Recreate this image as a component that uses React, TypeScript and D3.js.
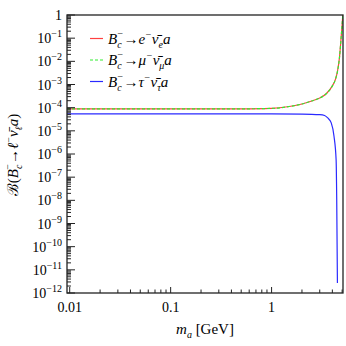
import * as d3 from "d3";

// m_a in GeV where the curves were read
const massE = [0.0094, 0.1, 0.5, 1, 1.5, 2, 2.5, 3, 3.5, 4, 4.3, 4.5, 4.7, 4.85, 4.95, 5.08];
const brE = [8.8e-5, 8.8e-5, 8.9e-5, 9.3e-5, 1.12e-4, 1.44e-4, 1.95e-4, 2.6e-4, 4.1e-4, 8.7e-4, 1.7e-3, 3.8e-3, 1.39e-2, 6.8e-2, 0.22, 1];
const brMu = [8.8e-5, 8.8e-5, 8.9e-5, 9.3e-5, 1.12e-4, 1.44e-4, 1.95e-4, 2.6e-4, 4.1e-4, 8.7e-4, 1.7e-3, 3.8e-3, 1.39e-2, 6.8e-2, 0.22, 1];

const massTau = [0.0094, 0.1, 1, 2, 3, 3.35, 3.6, 3.9, 4.15, 4.36, 4.42, 4.49];
const brTau = [5.4e-5, 5.4e-5, 5.4e-5, 5.3e-5, 5.0e-5, 4.6e-5, 3.6e-5, 2.2e-5, 6e-6, 5.5e-7, 1e-8, 2.7e-12];

const xTickLabels = ["0.01", "0.1", "1"];
const xTickValues = [0.01, 0.1, 1];
const yExponents = [0, -1, -2, -3, -4, -5, -6, -7, -8, -9, -10, -11, -12];

const W = 346;
const H = 346;
const left = 67;
const right = 343;
const top = 15;
const bottom = 293;

const serif = "Liberation Serif, DejaVu Serif, serif";

const App = () => {
  const x = d3.scaleLog().domain([0.0094, 5.1]).range([left, right]);
  const y = d3.scaleLog().domain([1e-12, 1]).range([bottom, top]);

  const line = d3
    .line<[number, number]>()
    .x((d) => x(d[0]))
    .y((d) => y(d[1]))
    .curve(d3.curveMonotoneX);

  const eData = massE.map((m, i) => [m, brE[i]] as [number, number]);
  const muData = massE.map((m, i) => [m, brMu[i]] as [number, number]);
  const tauData = massTau.map((m, i) => [m, brTau[i]] as [number, number]);

  // minor ticks
  const xMinor: number[] = [];
  for (const dec of [0.01, 0.1, 1]) {
    for (let k = 2; k <= 9; k++) {
      const v = dec * k;
      if (v <= 5.1) xMinor.push(v);
    }
  }
  const yMinor: number[] = [];
  for (let e = -12; e < 0; e++) {
    for (let k = 2; k <= 9; k++) yMinor.push(k * Math.pow(10, e));
  }

  const legend = [
    { color: "#ff4040", dash: null, lep: "e", nu: "e" },
    { color: "#30ee30", dash: "3,2", lep: "μ", nu: "μ" },
    { color: "#2a2aff", dash: null, lep: "τ", nu: "τ" },
  ];

  return (
    <svg width={W} height={H} style={{ position: "absolute", left: 0, top: 0 }}>
      <rect width={W} height={H} fill="white" />
      <defs>
        <clipPath id="clip">
          <rect x={left} y={top} width={right - left} height={bottom - top} />
        </clipPath>
      </defs>

      {/* curves */}
      <g clipPath="url(#clip)">
        <path d={line(eData) ?? ""} fill="none" stroke="#ff4040" strokeWidth={1.2} />
        <path d={line(muData) ?? ""} fill="none" stroke="#30ee30" strokeWidth={1.2} strokeDasharray="3,2" />
        <path d={line(tauData) ?? ""} fill="none" stroke="#2a2aff" strokeWidth={1.2} />
      </g>

      {/* frame */}
      <rect x={left} y={top} width={right - left} height={bottom - top} fill="none" stroke="#222" strokeWidth={1.3} />

      {/* x ticks */}
      {xTickValues.map((v) => (
        <line key={"xM" + v} x1={x(v)} x2={x(v)} y1={bottom} y2={bottom - 6} stroke="#222" strokeWidth={1} />
      ))}
      {xMinor.map((v) => (
        <line key={"xm" + v} x1={x(v)} x2={x(v)} y1={bottom} y2={bottom - 3.5} stroke="#222" strokeWidth={1} />
      ))}
      {xTickValues.map((v, i) => (
        <text key={"xl" + v} x={x(v)} y={311.5} textAnchor="middle" fontFamily={serif} fontSize={14}>
          {xTickLabels[i]}
        </text>
      ))}

      {/* y ticks */}
      {yExponents.map((e) => (
        <line key={"yM" + e} x1={left} x2={left + 8} y1={y(Math.pow(10, e))} y2={y(Math.pow(10, e))} stroke="#222" strokeWidth={1} />
      ))}
      {yMinor.map((v, i) => (
        <line key={"ym" + i} x1={left} x2={left + 4} y1={y(v)} y2={y(v)} stroke="#222" strokeWidth={1} />
      ))}
      {yExponents.map((e) =>
        e === 0 ? (
          <text key={"yl" + e} x={62} y={y(1) + 5} textAnchor="end" fontFamily={serif} fontSize={14}>
            1
          </text>
        ) : (
          <text key={"yl" + e} x={62} y={y(Math.pow(10, e)) + 5} textAnchor="end" fontFamily={serif} fontSize={14}>
            10
            <tspan dy={-6} fontSize={10}>
              {"−" + Math.abs(e)}
            </tspan>
          </text>
        )
      )}

      {/* legend */}
      {legend.map((l, i) => {
        const ly = 38.5 + i * 21.5;
        return (
          <g key={"lg" + i}>
            <line x1={90} x2={103} y1={ly} y2={ly} stroke={l.color} strokeWidth={1.2} strokeDasharray={l.dash ?? undefined} />
            <text x={108} y={ly + 5} fontFamily={serif} fontSize={15} fontStyle="italic">
              B
              <tspan dy={4} fontSize={10}>c</tspan>
              <tspan dy={-11} dx={-5} fontSize={10}>−</tspan>
              <tspan dy={7} fontStyle="normal">→</tspan>
              <tspan>{l.lep}</tspan>
              <tspan dy={-6} fontSize={10}>−</tspan>
              <tspan dy={6}>{"ν\u0304"}</tspan>
              <tspan dy={4} fontSize={10}>{l.nu}</tspan>
              <tspan dy={-4}>a</tspan>
            </text>
          </g>
        );
      })}

      {/* axis titles */}
      <text x={205} y={334} textAnchor="middle" fontFamily={serif} fontSize={15}>
        <tspan fontStyle="italic">m</tspan>
        <tspan dy={4} fontSize={10} fontStyle="italic">a</tspan>
        <tspan dy={-4}> [GeV]</tspan>
      </text>
      <text transform="translate(18,155) rotate(-90)" textAnchor="middle" fontFamily={serif} fontSize={15}>
        {"ℬ("}
        <tspan fontStyle="italic">B</tspan>
        <tspan dy={4} fontSize={10} fontStyle="italic">c</tspan>
        <tspan dy={-11} dx={-5} fontSize={10}>−</tspan>
        <tspan dy={7}>→</tspan>
        <tspan fontStyle="italic">ℓ</tspan>
        <tspan dy={-6} fontSize={10}>−</tspan>
        <tspan dy={6} fontStyle="italic">{"ν\u0304"}</tspan>
        <tspan dy={4} fontSize={10} fontStyle="italic">ℓ</tspan>
        <tspan dy={-4} fontStyle="italic">a</tspan>
        <tspan>)</tspan>
      </text>
    </svg>
  );
};

export default App;
